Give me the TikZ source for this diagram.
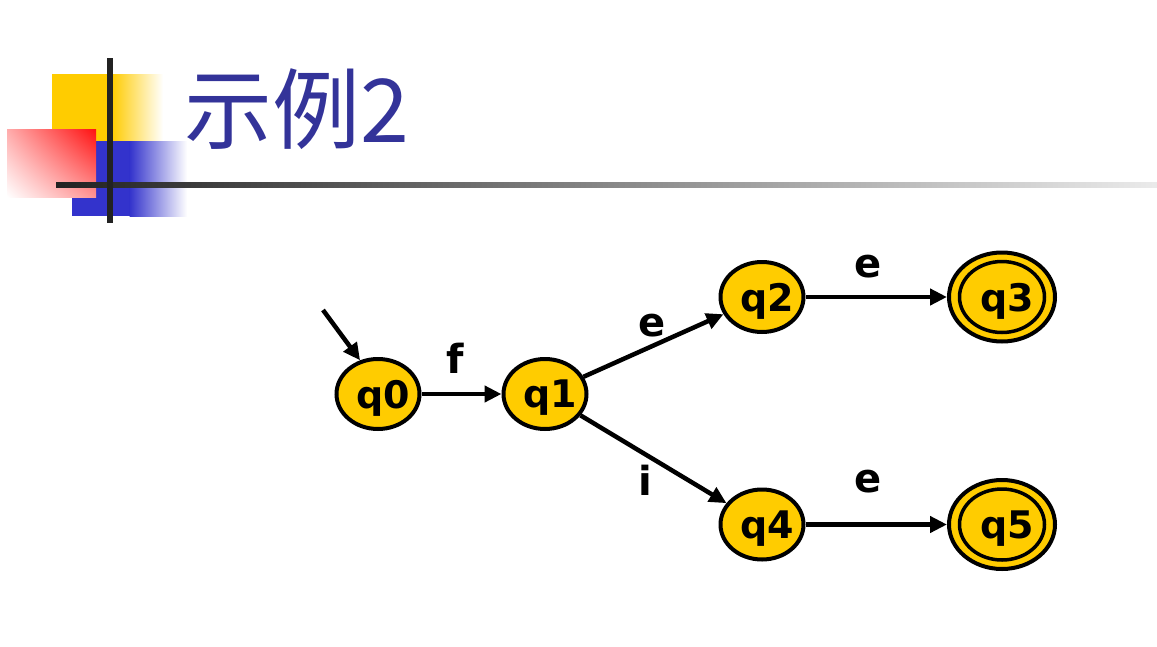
\documentclass[tikz,border=0pt]{standalone}
\usepackage{fontspec}
\setmainfont{DejaVu Sans}
\newfontfamily\cjk{Noto Sans CJK SC}
\usetikzlibrary{arrows.meta,shapes.geometric,shadings}
\definecolor{stateyellow}{HTML}{FFCC00}
\definecolor{titleblue}{HTML}{333399}
\definecolor{decoyellow}{HTML}{FFCC00}
\definecolor{decoblue}{HTML}{3333CC}
\definecolor{decored}{HTML}{FF1010}
\definecolor{linedark}{HTML}{222222}
\newcommand{\stxt}[1]{\makebox[40pt][c]{\hspace*{10pt}#1}}
\begin{document}
\begin{tikzpicture}[x=1pt,y=-1pt,
  state/.style={ellipse,draw=black,line width=4pt,fill=stateyellow,
    minimum width=83pt,minimum height=70pt,inner sep=0pt,text depth=0pt,
    font=\fontsize{38}{38}\selectfont\bfseries},
  accept/.style={state,minimum width=106pt,minimum height=89pt},
  innerring/.style={draw=black,line width=3.5pt},
  edge/.style={line width=4.5pt,-{Triangle[length=17pt,width=16pt]}},
  elabel/.style={font=\fontsize{40}{40}\selectfont\bfseries,inner sep=0pt}]
\useasboundingbox (0,0) rectangle (1157,646);
% decoration
\fill[decoyellow] (52,74) rectangle (112,141);
\shade[left color=decoyellow,right color=white] (111.5,74) rectangle (163,141);
\fill[decoblue] (72,141) rectangle (130,216);
\shade[left color=decoblue,right color=white] (129.5,141) rectangle (187,216);
\shade[upper right=decored,upper left=decored!35!white,lower right=decored!45!white,lower left=white] (7,129) rectangle (96,197);
\shade[left color=linedark,right color=white!92!black] (56,182) rectangle (1157,187);
\fill[linedark] (107,58) rectangle (113,223);
% title
\node[anchor=base west,inner sep=0pt,text=titleblue,font=\cjk\fontsize{88}{88}\selectfont] (title) at (184,142) {示例2};
% states
\node[state] (q0) at (378,394) {\stxt{q0}};
\node[state] (q1) at (545,394) {\stxt{q1}};
\node[state] (q2) at (762,297) {\stxt{q2}};
\node[accept] (q3) at (1002,297) {\stxt{q3}};
\node[state] (q4) at (762,524.5) {\stxt{q4}};
\node[accept] (q5) at (1002,524.5) {\stxt{q5}};
\draw[innerring] (q3.center) ellipse [x radius=42.5pt,y radius=35.5pt];
\draw[innerring] (q5.center) ellipse [x radius=42.5pt,y radius=35.5pt];
% start
\coordinate (start) at (323,310);
\draw[edge] (start) -- (q0.118);
% edges
\draw[edge] (q0) -- (q1);
\draw[edge] (q1) -- (q2);
\draw[edge] (q1) -- (q4);
\draw[edge] (q2) -- (q3);
\draw[edge] (q4) -- (q5);
% labels
\node[elabel] (lf) at (455,358) {f};
\node[elabel] (le1) at (652,326) {e};
\node[elabel] (li) at (645,480) {i};
\node[elabel] (le2) at (868,267) {e};
\node[elabel] (le3) at (868,482) {e};
\end{tikzpicture}
\end{document}
